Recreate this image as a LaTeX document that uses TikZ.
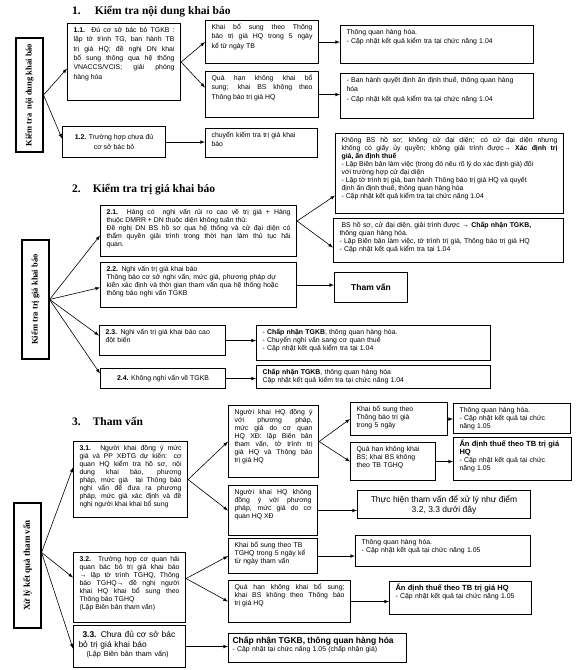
\documentclass[tikz,border=0pt]{standalone}
\usepackage{fontspec}
\setmainfont{Liberation Serif}
\setsansfont{Liberation Sans}
\usepackage{graphicx}
\newcommand{\bigb}[1]{{\bfseries\fontsize{7.5}{8}\selectfont #1}}
\begin{document}
\begin{tikzpicture}[>=latex, x=1pt, y=-1pt,
  tbox/.style={draw, line width=1.1pt, anchor=north west, inner xsep=6pt, inner ysep=3pt,
    text height=6pt, align=left, font=\sffamily\fontsize{6.9}{8}\selectfont,
    execute at begin node={\hyphenpenalty=10000\exhyphenpenalty=10000\tolerance=9999}},
  jbox/.style={tbox, align=justify},
  sec1/.style={font=\sffamily\fontsize{6.9}{9.3}\selectfont},
  cbox/.style={draw, line width=1.1pt, anchor=north west, inner sep=2pt, align=center,
    font=\sffamily\fontsize{6.9}{8}\selectfont},
  side/.style={draw, line width=1.1pt, inner sep=0pt, minimum width=27pt,
    font=\bfseries\fontsize{8.5}{10}\selectfont},
  ttl/.style={anchor=west, inner sep=0pt, font=\bfseries\fontsize{11.5}{13}\selectfont},
  link/.style={->, semithick}]

\path[use as bounding box, fill=white] (0,0) rectangle (576,670);

\node[ttl] (t1) at (72,12) {1.\hspace{14pt}Kiểm tra nội dung khai báo};
\node[side, minimum height=114pt] (v1) at (29.5,95) {\rotatebox{90}{Kiểm tra\ \ nội dung khai báo}};

\node[jbox, sec1, text width=101pt, text depth=65pt] (b11) at (67,23) {\textbf{1.1.} Đủ cơ sở bác bỏ TGKB~:\linebreak lập tờ trình TG, ban hành TB\linebreak trị giá HQ; đề nghị DN khai\linebreak bổ sung thông qua hệ thống\linebreak VNACCS/VCIS; giải phóng\linebreak hàng hóa};
\node[cbox, sec1, minimum width=103pt, minimum height=31pt] (b12) at (62,126) {\textbf{1.2.} Trường hợp chưa đủ\\cơ sở bác bỏ};
\node[jbox, sec1, text width=101pt, text depth=31pt] (kbs1) at (205,20) {Khai bổ sung theo Thông\linebreak báo trị giá HQ trong 5 ngày\linebreak kể từ ngày TB};
\node[jbox, sec1, text width=101pt, text depth=34pt] (qh1) at (205,71) {Quá hạn không khai bổ\linebreak sung; khai BS không theo\linebreak Thông báo trị giá HQ};
\node[tbox, sec1, text width=100pt, text depth=17pt] (ck1) at (205,128) {chuyển kiểm tra trị giá khai\\báo};
\node[tbox, sec1, text width=181pt, text depth=26pt] (tq1) at (340,25) {Thông quan hàng hóa.\\- Cập nhật kết quả kiểm tra tại chức năng 1.04};
\node[tbox, sec1, text width=181pt, text depth=33pt] (bh1) at (340,73) {- Ban hành quyết định ấn định thuế, thông quan hàng\\hóa\\- Cập nhật kết quả kiểm tra tại chức năng 1.04};

\draw[link] (v1.east) -- ([yshift=-6.5pt]b11.west);
\draw[link] (v1.east) -- ([yshift=3.5pt]b12.west);
\draw[link] (b11.east) -- (kbs1.west);
\draw[link] (b11.east) -- ([yshift=7pt]qh1.west);
\draw[link] (kbs1.east) -- (kbs1.east -| tq1.west);
\draw[link] (qh1.east) -- (qh1.east -| bh1.west);
\draw[link] (b12.east) -- (b12.east -| ck1.west);

\node[ttl] (t2) at (72,190) {2.\hspace{12pt}Kiểm tra trị giá khai báo};
\node[side, minimum height=119pt] (v2) at (35.5,299.5) {\rotatebox{90}{Kiểm tra trị giá khai báo}};

\node[jbox, text width=184pt, text depth=39pt] (b21) at (100,205) {\textbf{2.1.} Hàng có\ \ nghi vấn rủi ro cao về trị giá + Hàng\linebreak thuộc DMRR + DN thuộc diện không tuân thủ:\\Đề nghị DN BS hồ sơ qua hệ thống và cử đại diện có\linebreak thẩm quyền giải trình trong thời hạn làm thủ tục hải\linebreak quan.};
\node[tbox, text width=184pt, text depth=33pt] (b22) at (100,262) {\textbf{2.2.} Nghi vấn trị giá khai báo\\Thông báo cơ sở nghi vấn, mức giá, phương pháp dự\\kiến xác định và thời gian tham vấn qua hệ thống hoặc\\thông báo nghi vấn TGKB};
\node[tbox, text width=114pt, text depth=18pt] (b23) at (99,325) {\textbf{2.3.} Nghi vấn trị giá khai báo cao\\đột biến};
\node[cbox, minimum width=125pt, minimum height=20pt] (b24) at (100,368) {\textbf{2.4.} Không nghi vấn về TGKB};
\node[jbox, text width=216pt, text depth=68pt] (kbs2) at (335,133) {Không BS hồ sơ; không cử đại diện; có cử đại diện nhưng\linebreak không có giấy ủy quyền; không giải trình được→ \textbf{Xác định trị}\linebreak \textbf{giá, ấn định thuế}\\- Lập Biên bản làm việc (trong đó nêu rõ lý do xác định giá) đối\\với trường hợp cử đại diện\\- Lập tờ trình trị giá, ban hành Thông báo trị giá HQ và quyết\\định ấn định thuế, thông quan hàng hóa\\- Cập nhật kết quả kiểm tra tại chức năng 1.04};
\node[tbox, text width=218pt, text depth=32pt] (bs2) at (333,218) {\hspace*{2pt}BS hồ sơ, cử đại diện, giải trình được → \textbf{Chấp nhận TGKB,}\\thông quan hàng hóa.\\- Lập Biên bản làm việc, tờ trình trị giá, Thông báo trị giá HQ\\- Cập nhật kết quả kiểm tra tại 1.04};
\node[cbox, minimum width=73pt, minimum height=30pt, font=\sffamily\bfseries\fontsize{8.5}{10}\selectfont] (tv2) at (334,272) {Tham vấn};
\node[tbox, text width=222pt, text depth=23pt] (r23) at (256,325) {- \textbf{Chấp nhận TGKB}, thông quan hàng hóa.\\- Chuyển nghi vấn sang cơ quan thuế\\- Cập nhật kết quả kiểm tra tại 1.04};
\node[tbox, text width=222pt, text depth=11pt] (r24) at (256,365) {\textbf{Chấp nhận TGKB}, thông quan hàng hóa\\Cập nhật kết quả kiểm tra tại chức năng 1.04};

\draw[link] (v2.east) -- ([yshift=-4.5pt]b21.west);
\draw[link] (v2.east) -- ([yshift=-2.5pt]b22.west);
\draw[link] (v2.east) -- ([yshift=5pt]b23.west);
\draw[link] (v2.east) -- ([yshift=5pt]b24.west);
\draw[link] ([yshift=10pt]b21.east) -- ([yshift=-22pt]kbs2.west);
\draw[link] ([yshift=10pt]b21.east) -- ([yshift=-7pt]bs2.west);
\draw[link] (b22.east) -- (b22.east -| tv2.west);
\draw[link] (b23.east) -- (b23.east -| r23.west);
\draw[link] (b24.east) -- (b24.east -| r24.west);

\node[ttl] (t3) at (72,421) {3.\hspace{12pt}Tham vấn};
\node[side, minimum height=125pt, font=\bfseries\fontsize{9}{10}\selectfont] (v3) at (27.5,565.5) {\rotatebox{90}{Xử lý kết quả tham vấn}};

\node[jbox, text width=102pt, text depth=64pt] (b31) at (73,441) {\textbf{3.1.} Người khai đồng ý mức\linebreak giá và PP XĐTG dự kiến: cơ\linebreak quan HQ kiểm tra hồ sơ, nội\linebreak dung khai báo, phương\linebreak pháp, mức giá\ \ tại Thông báo\linebreak nghi vấn để đưa ra phương\linebreak pháp, mức giá xác định và đề\linebreak nghị người khai khai bổ sung};
\node[jbox, text width=100pt, text depth=58pt] (b32) at (73,552) {\textbf{3.2.} Trường hợp cơ quan hải\linebreak quan bác bỏ trị giá khai báo\linebreak → lập tờ trình TGHQ, Thông\linebreak báo TGHQ→ đề nghị người\linebreak khai HQ khai bổ sung theo\linebreak Thông báo TGHQ\\(Lập Biên bản tham vấn)};
\node[tbox, inner xsep=5pt, text width=102pt, text height=9pt, text depth=27pt, font=\sffamily\fontsize{8.4}{9.5}\selectfont] (b33) at (73,625) {\hspace*{4pt}\textbf{3.3.} Chưa đủ cơ sở bác\\bỏ trị giá khai báo\\{\fontsize{7.2}{9}\selectfont\hspace*{8pt}(Lập Biên bản tham vấn)}};

\node[jbox, text width=78pt, text depth=60pt] (dy3) at (228,405) {Người khai HQ đồng ý\linebreak với phương pháp,\linebreak mức giá do cơ quan\linebreak HQ XĐ: lập Biên bản\linebreak tham vấn, tờ trình trị\linebreak giá HQ và Thông báo\linebreak trị giá HQ};
\node[jbox, text width=77pt, text depth=38pt] (kdy3) at (228,485) {Người khai HQ không\linebreak đồng ý với phương\linebreak pháp, mức giá do cơ\linebreak quan HQ XĐ};
\node[tbox, text width=85pt, text depth=21pt] (kbs3) at (350,402) {Khai bổ sung theo\\Thông báo trị giá\\trong 5 ngày};
\node[tbox, text width=73pt, text depth=26pt] (qh3) at (350,442) {Quá hạn không khai\\BS; khai BS không\\theo TB TGHQ};
\node[tbox, text width=105pt, text depth=18pt] (tq3) at (453,403) {Thông quan hàng hóa.\\- Cập nhật kết quả tại chức\\năng 1.05};
\node[tbox, text width=106pt, text depth=31pt] (an3) at (453,437) {\bigb{Ấn định thuế theo TB trị giá}\\\bigb{HQ}\\- Cập nhật kết quả tại chức\\năng 1.05};
\node[cbox, minimum width=173pt, minimum height=28pt, font=\sffamily\fontsize{8.5}{10}\selectfont] (th3) at (357,490) {Thực hiện tham vấn để xử lý như điểm\\3.2, 3.3 dưới đây};

\node[tbox, text width=77pt, text depth=23pt] (kbs3b) at (228,538) {Khai bổ sung theo TB\\TGHQ trong 5 ngày kể\\từ ngày tham vấn};
\node[jbox, text width=110pt, text depth=30pt] (qh3b) at (228,580) {Quá hạn không khai bổ sung;\linebreak khai BS không theo Thông báo\linebreak trị giá HQ};
\node[tbox, text width=163pt, text depth=19pt] (tq3b) at (355,535) {Thông quan hàng hóa.\\- Cập nhật kết quả tại chức năng 1.05};
\node[tbox, text width=130pt, text depth=21pt] (an3b) at (389,581) {\bigb{Ấn định thuế theo TB trị giá HQ}\\- Cập nhật kết quả tại chức năng 1.05};
\node[tbox, inner xsep=4pt, text width=170pt, text height=7pt, text depth=16pt] (cn3) at (228,633) {{\bfseries\fontsize{8.5}{9}\selectfont Chấp nhận TGKB, thông quan hàng hóa}\\- Cập nhật tại chức năng 1.05 (chấp nhận giá)};

\draw[link] ([yshift=13pt]v3.east) -- ([yshift=12pt]b31.west);
\draw[link] ([yshift=13pt]v3.east) -- ([yshift=10pt]b32.west);
\draw[link] ([yshift=13pt]v3.east) -- ([yshift=-2pt]b33.west);
\draw[link] (b31.east) -- (dy3.west);
\draw[link] (b31.east) -- (kdy3.west);
\draw[link] (dy3.east) -- (kbs3.west);
\draw[link] (dy3.east) -- (qh3.west);
\draw[link] (kbs3.east) -- (kbs3.east -| tq3.west);
\draw[link] (qh3.east) -- (qh3.east -| an3.west);
\draw[link] (kdy3.east) -- (kdy3.east -| th3.west);
\draw[link] ([yshift=9pt]b32.east) -- (kbs3b.west);
\draw[link] ([yshift=9pt]b32.east) -- (qh3b.west);
\draw[link] (kbs3b.east) -- (kbs3b.east -| tq3b.west);
\draw[link] (qh3b.east) -- (qh3b.east -| an3b.west);
\draw[link] (b33.east) -- (b33.east -| cn3.west);

\end{tikzpicture}
\end{document}
